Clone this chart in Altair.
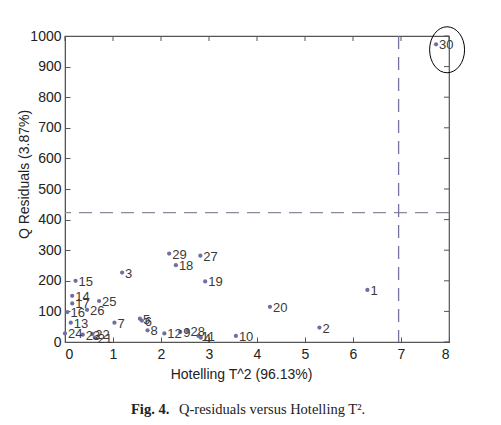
import altair as alt
import pandas as pd

samples = [str(i) for i in range(1, 31)]
t2 = [6.30, 5.30, 1.19, 2.83, 1.56, 1.60, 1.03, 1.72, 2.40, 3.56,
      2.78, 2.07, 0.12, 0.15, 0.22, 0.05, 0.15, 2.31, 2.92, 4.27,
      0.62, 0.57, 0.37, 0.00, 0.71, 0.46, 2.82, 2.55, 2.17, 7.73]
q = [170, 47, 227, 14, 76, 70, 63, 38, 33, 20,
     20, 28, 63, 151, 200, 98, 126, 251, 198, 115,
     14, 26, 24, 28, 134, 105, 282, 36, 289, 973]

t2_limit = [6.95]
q_limit = [423]
outlier_mark_t2 = [7.96]
outlier_mark_q = [955]

x_ticks = [0, 1, 2, 3, 4, 5, 6, 7, 8]
y_ticks = [0, 100, 200, 300, 400, 500, 600, 700, 800, 900, 1000]

df = pd.DataFrame({"sample": samples, "t2": t2, "q": q})
df_h = pd.DataFrame({"q": q_limit})
df_v = pd.DataFrame({"t2": t2_limit})
df_e = pd.DataFrame({"t2": outlier_mark_t2, "q": outlier_mark_q})
df_xt = pd.DataFrame({"t2": x_ticks})
df_yt = pd.DataFrame({"q": y_ticks})

FONT = "Liberation Sans"
W, H = 384, 306
xscale = alt.Scale(domain=[0, 8], nice=False)
yscale = alt.Scale(domain=[0, 1000], nice=False)

x_axis = alt.Axis(values=x_ticks, title="Hotelling T^2 (96.13%)", grid=False,
                  tickSize=alt.ExprRef("-5"), labelPadding=10, titlePadding=6,
                  titleX=176)
y_axis = alt.Axis(values=y_ticks, title="Q Residuals (3.87%)", grid=False, format="d",
                  tickSize=alt.ExprRef("-5"), labelPadding=9, titleX=-34, titleY=138)

X = alt.X("t2:Q", scale=xscale, axis=x_axis)
Y = alt.Y("q:Q", scale=yscale, axis=y_axis)

pts = alt.Chart(df).mark_circle(size=18, color="#6f6fa3", opacity=1).encode(x=X, y=Y)
labels = alt.Chart(df).mark_text(align="left", dx=3, dy=1, fontSize=13,
                                 font=FONT, color="#3a3a3a").encode(x=X, y=Y, text="sample:N")
hline = alt.Chart(df_h).mark_rule(color="#8a8a9c", strokeDash=[13, 8], strokeWidth=1.3).encode(y=Y)
vline = alt.Chart(df_v).mark_rule(color="#7474a4", strokeDash=[13, 8], strokeWidth=1.3).encode(x=X)
top_ticks = alt.Chart(df_xt).mark_rule(color="#555").encode(
    x=X, y=alt.value(0), y2=alt.value(5))
right_ticks = alt.Chart(df_yt).mark_rule(color="#555").encode(
    y=Y, x=alt.value(W - 5), x2=alt.value(W))
ellipse = alt.Chart(df_e).mark_point(
    shape="M -0.76 0 A 0.76 1 0 1 0 0.76 0 A 0.76 1 0 1 0 -0.76 0 Z",
    size=2116, filled=False, stroke="black", strokeWidth=1, opacity=1, clip=False,
).encode(x=X, y=Y)
cap1 = alt.Chart(df_e).mark_text(align="left", baseline="alphabetic", font="Liberation Serif",
                                 fontSize=14.5, fontWeight="bold", color="#222").encode(
    x=alt.value(66), y=alt.value(378), text=alt.value("Fig. 4."))
cap2 = alt.Chart(df_e).mark_text(align="left", baseline="alphabetic", font="Liberation Serif",
                                 fontSize=14.5, color="#222").encode(
    x=alt.value(114), y=alt.value(378), text=alt.value("Q-residuals versus Hotelling T²."))

chart = alt.layer(pts, labels, ellipse, hline, vline, top_ticks, right_ticks, cap1, cap2).properties(
    width=W, height=H, autosize="none",
    padding={"left": 57, "top": 28, "right": 44, "bottom": 75},
).configure_view(stroke="#555", strokeWidth=1.2).configure_axis(
    domainColor="#555", tickColor="#555", labelColor="#222", titleColor="#222",
    labelFont=FONT, titleFont=FONT, labelFontSize=14, titleFontSize=14,
    titleFontWeight="normal",
)

chart.save("out.html", embed_options={"renderer": "svg", "actions": False})
